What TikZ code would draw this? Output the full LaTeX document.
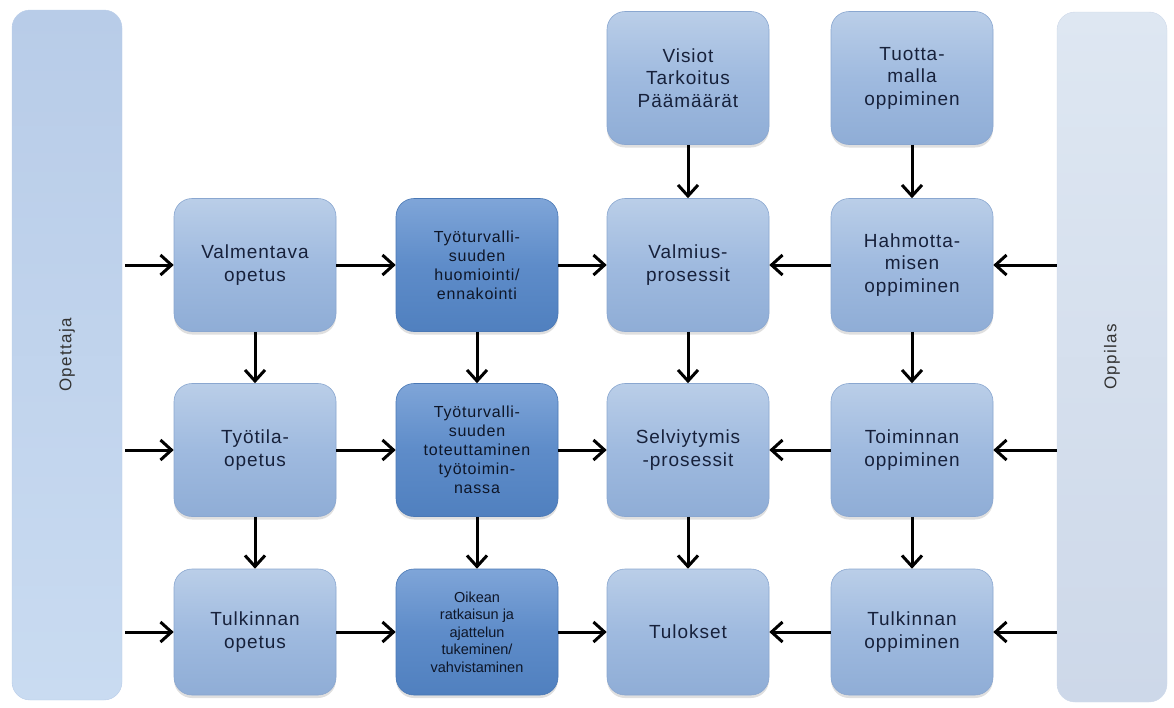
\documentclass[tikz,border=0pt]{standalone}
\usepackage{fontspec}
\setmainfont{Liberation Sans}
\newfontfamily\spfont[LetterSpace=5]{Liberation Sans}
\newfontfamily\barfont[LetterSpace=8]{Liberation Sans}
\usetikzlibrary{arrows.meta,shadows}
\definecolor{txt}{HTML}{17213B}
\definecolor{dtxt}{HTML}{0E1628}
\definecolor{ltop}{HTML}{BACEE8}
\definecolor{lmid}{HTML}{9FBADF}
\definecolor{lbot}{HTML}{8FADD6}
\definecolor{lline}{HTML}{8AA7D0}
\definecolor{dtop}{HTML}{7FA5D8}
\definecolor{dmid}{HTML}{5E8CC9}
\definecolor{dbot}{HTML}{5080BF}
\definecolor{dline}{HTML}{4A78B5}
\definecolor{lbarA}{HTML}{B8CCE8}
\definecolor{lbarB}{HTML}{C9DBF1}
\definecolor{rbarA}{HTML}{CDD8E9}
\definecolor{rbarB}{HTML}{DEE7F2}
\tikzset{
  x=1pt, y=-1pt,
  boxbase/.style={rectangle, rounded corners=18pt, minimum width=162pt,
    minimum height=133pt, align=center, line width=0.6pt,
    drop shadow={shadow xshift=0pt, shadow yshift=-3pt, opacity=0.25}},
  lbox/.style={boxbase, text=txt, draw=lline, top color=ltop, bottom color=lbot, middle color=lmid,
    font=\spfont\fontsize{19}{22.5}\selectfont},
  dbox/.style={boxbase, text=dtxt, draw=dline, top color=dtop, bottom color=dbot, middle color=dmid,
    font=\spfont\fontsize{16}{19}\selectfont},
  lowrow/.style={minimum height=126pt},
  barbox/.style={rectangle, rounded corners=18pt, rotate=90, minimum width=690pt,
    minimum height=110pt, text=black!80, font=\barfont\fontsize{17}{20}\selectfont},
  arr/.style={line width=3pt, draw=black, -{Straight Barb[length=11pt,width=20pt]}},
}
\begin{document}
\begin{tikzpicture}
\useasboundingbox (0,0) rectangle (1174,707);
% side bars
\node[barbox, draw=lbarA, top color=lbarA, bottom color=lbarB] (opettaja) at (67,355) {Opettaja};
\node[barbox, draw=rbarA, top color=rbarB, bottom color=rbarA] (oppilas) at (1112,357) {Oppilas};
% top row
\node[lbox] (vis) at (688,78) {Visiot\\Tarkoitus\\Päämäärät};
\node[lbox] (tuo) at (912,78) {Tuotta-\\malla\\oppiminen};
% row 1
\node[lbox] (val) at (255,265) {Valmentava\\opetus};
\node[dbox] (huo) at (477,265) {Työturvalli-\\suuden\\huomiointi/\\ennakointi};
\node[lbox] (vp) at (688,265) {Valmius-\\prosessit};
\node[lbox] (hah) at (912,265) {Hahmotta-\\misen\\oppiminen};
% row 2
\node[lbox] (tyo) at (255,450) {Työtila-\\opetus};
\node[dbox] (tot) at (477,450) {Työturvalli-\\suuden\\toteuttaminen\\työtoimin-\\nassa};
\node[lbox] (sel) at (688,450) {Selviytymis\\-prosessit};
\node[lbox] (toi) at (912,450) {Toiminnan\\oppiminen};
% row 3
\node[lbox, lowrow] (tul) at (255,632) {Tulkinnan\\opetus};
\node[dbox, lowrow, font=\fontsize{14.5}{17.5}\selectfont] (oik) at (477,632) {Oikean\\ratkaisun ja\\ajattelun\\tukeminen/\\vahvistaminen};
\node[lbox, lowrow] (tlk) at (688,632) {Tulokset};
\node[lbox, lowrow] (tuo2) at (912,632) {Tulkinnan\\oppiminen};
% arrows from teacher bar
\draw[arr, shorten <=3pt] (opettaja.south |- val) -- (val);
\draw[arr, shorten <=3pt] (opettaja.south |- tyo) -- (tyo);
\draw[arr, shorten <=3pt] (opettaja.south |- tul) -- (tul);
% arrows from learner bar
\draw[arr] (oppilas.north |- hah) -- (hah);
\draw[arr] (oppilas.north |- toi) -- (toi);
\draw[arr] (oppilas.north |- tuo2) -- (tuo2);
% horizontal
\draw[arr] (val) -- (huo);
\draw[arr] (huo) -- (vp);
\draw[arr] (hah) -- (vp);
\draw[arr] (tyo) -- (tot);
\draw[arr] (tot) -- (sel);
\draw[arr] (toi) -- (sel);
\draw[arr] (tul) -- (oik);
\draw[arr] (oik) -- (tlk);
\draw[arr] (tuo2) -- (tlk);
% vertical
\draw[arr] (val) -- (tyo);
\draw[arr] (tyo) -- (tul);
\draw[arr] (huo) -- (tot);
\draw[arr] (tot) -- (oik);
\draw[arr] (vis) -- (vp);
\draw[arr] (vp) -- (sel);
\draw[arr] (sel) -- (tlk);
\draw[arr] (tuo) -- (hah);
\draw[arr] (hah) -- (toi);
\draw[arr] (toi) -- (tuo2);
\end{tikzpicture}
\end{document}
